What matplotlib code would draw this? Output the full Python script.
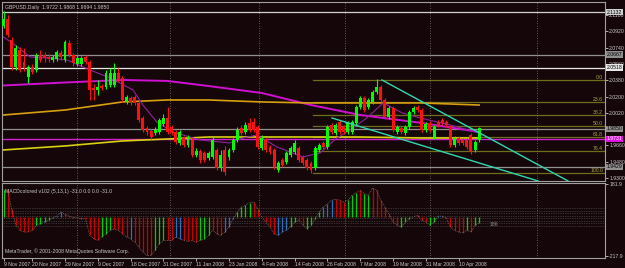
import numpy as np
import matplotlib
matplotlib.use('Agg')
import matplotlib.pyplot as plt

plt.rcParams['font.family'] = ['Liberation Sans', 'DejaVu Sans']

BG = '#150709'
FG = '#c8c8c8'
BORDER = '#a0a0a0'
FS = 3.7

# Daily GBPUSD bars, 9 Nov 2007 .. 15 Apr 2008
opens = [2.0979, 2.1056, 2.0824, 2.0526, 2.0714, 2.0581, 2.0416, 2.0526, 2.0493, 2.0659,
         2.0659, 2.0637, 2.0604, 2.0615, 2.0681, 2.0604, 2.0791, 2.0659, 2.0559, 2.0559,
         2.0637, 2.0581, 2.0294, 2.0272, 2.0316, 2.0305, 2.0327, 2.0327, 2.0460, 2.0405,
         2.0140, 2.0184, 2.0195, 2.0129, 1.9963, 1.9852, 1.9819, 1.9797, 1.9808, 1.9897,
         1.9963, 1.9863, 1.9808, 1.9687, 1.9742, 1.9665, 1.9720, 1.9554, 1.9599, 1.9577,
         1.9521, 1.9532, 1.9610, 1.9411, 1.9610, 1.9532, 1.9610, 1.9720, 1.9852, 1.9808,
         1.9908, 1.9919, 1.9863, 1.9632, 1.9720, 1.9643, 1.9610, 1.9389, 1.9499, 1.9477,
         1.9554, 1.9588, 1.9632, 1.9532, 1.9499, 1.9466, 1.9411, 1.9610, 1.9687, 1.9643,
         1.9886, 1.9797, 1.9919, 1.9863, 1.9808, 1.9808, 1.9908, 2.0084, 2.0184, 2.0084,
         2.0140, 2.0250, 2.0305, 2.0162, 1.9974, 2.0073, 1.9808, 1.9852, 1.9797, 1.9863,
         2.0029, 2.0084, 2.0051, 1.9830, 1.9908, 1.9753, 1.9919, 1.9941, 1.9919, 1.9863,
         1.9665, 1.9742, 1.9720, 1.9720, 1.9775, 1.9610, 1.9722]
highs = [2.1150, 2.1100, 2.0857, 2.0769, 2.0747, 2.0736, 2.0548, 2.0559, 2.0681, 2.0714,
         2.0692, 2.0670, 2.0659, 2.0714, 2.0714, 2.0824, 2.0824, 2.0681, 2.0659, 2.0648,
         2.0659, 2.0604, 2.0338, 2.0383, 2.0338, 2.0493, 2.0515, 2.0570, 2.0515, 2.0427,
         2.0217, 2.0206, 2.0217, 2.0162, 1.9985, 1.9874, 1.9841, 1.9863, 1.9963, 2.0007,
         2.0084, 1.9886, 1.9830, 1.9830, 1.9764, 1.9775, 1.9742, 1.9632, 1.9621, 1.9599,
         1.9599, 1.9753, 1.9632, 1.9610, 1.9654, 1.9632, 1.9742, 1.9863, 1.9886, 1.9919,
         1.9963, 1.9963, 1.9886, 1.9775, 1.9742, 1.9665, 1.9632, 1.9488, 1.9521, 1.9599,
         1.9654, 1.9720, 1.9654, 1.9554, 1.9521, 1.9488, 1.9654, 1.9687, 1.9709, 1.9886,
         1.9908, 1.9908, 1.9941, 1.9886, 1.9930, 1.9941, 2.0106, 2.0206, 2.0206, 2.0184,
         2.0272, 2.0393, 2.0327, 2.0184, 2.0095, 2.0095, 1.9886, 1.9874, 1.9886, 2.0051,
         2.0095, 2.0106, 2.0073, 1.9919, 1.9930, 1.9886, 1.9941, 1.9963, 1.9941, 1.9886,
         1.9764, 1.9764, 1.9742, 1.9742, 1.9797, 1.9720, 1.9868]
lows = [2.0957, 2.0857, 2.0493, 2.0493, 2.0471, 2.0482, 2.0349, 2.0449, 2.0471, 2.0581,
        2.0581, 2.0581, 2.0581, 2.0593, 2.0604, 2.0581, 2.0637, 2.0537, 2.0537, 2.0537,
        2.0559, 2.0162, 2.0162, 2.0217, 2.0272, 2.0283, 2.0305, 2.0305, 2.0361, 2.0140,
        2.0118, 2.0106, 2.0106, 1.9919, 1.9808, 1.9775, 1.9731, 1.9775, 1.9786, 1.9875,
        1.9786, 1.9775, 1.9676, 1.9665, 1.9643, 1.9643, 1.9532, 1.9532, 1.9466, 1.9477,
        1.9499, 1.9510, 1.9389, 1.9378, 1.9333, 1.9499, 1.9588, 1.9698, 1.9775, 1.9786,
        1.9808, 1.9808, 1.9621, 1.9610, 1.9588, 1.9566, 1.9400, 1.9367, 1.9422, 1.9455,
        1.9532, 1.9566, 1.9477, 1.9444, 1.9389, 1.9356, 1.9389, 1.9588, 1.9621, 1.9621,
        1.9786, 1.9775, 1.9786, 1.9786, 1.9786, 1.9786, 1.9886, 2.0062, 2.0029, 2.0062,
        2.0118, 2.0228, 2.0140, 1.9952, 1.9952, 1.9808, 1.9786, 1.9786, 1.9775, 1.9841,
        2.0007, 2.0029, 1.9808, 1.9808, 1.9808, 1.9731, 1.9863, 1.9886, 1.9863, 1.9643,
        1.9643, 1.9665, 1.9665, 1.9621, 1.9566, 1.9588, 1.9694]
closes = [2.1056, 2.0879, 2.0526, 2.0736, 2.0493, 2.0515, 2.0526, 2.0471, 2.0659, 2.0604,
          2.0626, 2.0615, 2.0637, 2.0692, 2.0637, 2.0802, 2.0659, 2.0570, 2.0626, 2.0626,
          2.0581, 2.0272, 2.0272, 2.0305, 2.0294, 2.0460, 2.0460, 2.0460, 2.0383, 2.0162,
          2.0195, 2.0140, 2.0129, 1.9941, 1.9830, 1.9808, 1.9753, 1.9830, 1.9941, 1.9963,
          1.9808, 1.9797, 1.9698, 1.9808, 1.9665, 1.9742, 1.9554, 1.9599, 1.9499, 1.9499,
          1.9577, 1.9720, 1.9411, 1.9554, 1.9367, 1.9610, 1.9720, 1.9830, 1.9797, 1.9886,
          1.9830, 1.9830, 1.9643, 1.9742, 1.9610, 1.9588, 1.9422, 1.9466, 1.9444, 1.9577,
          1.9632, 1.9687, 1.9499, 1.9466, 1.9411, 1.9389, 1.9632, 1.9665, 1.9643, 1.9863,
          1.9808, 1.9886, 1.9808, 1.9808, 1.9908, 1.9919, 2.0084, 2.0184, 2.0051, 2.0162,
          2.0250, 2.0305, 2.0162, 1.9974, 2.0073, 1.9830, 1.9863, 1.9808, 1.9863, 2.0029,
          2.0073, 2.0051, 1.9830, 1.9897, 1.9830, 1.9863, 1.9886, 1.9908, 1.9886, 1.9665,
          1.9742, 1.9687, 1.9687, 1.9643, 1.9588, 1.9698, 1.9850]

# MACD (5,13,1) histogram, points, and its colour code per bar
macd = [150, 150, 45, -46, -74, -83, -83, -74, -46, -37,
        -28, -18, -5, 5, 28, 15, 5, -3, -5, -10,
        -10, -100, -120, -130, -111, -93, -74, -65, -74, -93,
        -111, -120, -139, -167, -194, -213, -213, -185, -148, -130,
        -130, -130, -111, -120, -130, -135, -130, -139, -130, -120,
        -102, -74, -93, -102, -83, -56, -9, 28, 55, 65,
        80, 83, 46, 0, -28, -55, -93, -102, -83, -74,
        -56, -28, -18, -46, -65, -46, -9, 28, 55, 74,
        93, 98, 93, 83, 93, 120, 135, 148, 130, 120,
        161, 148, 93, 55, 18, -28, -46, -55, -28, -9,
        0, 10, -18, -28, -46, -28, 5, 5, -5, -56,
        -74, -83, -87, -74, -83, -46, -31]
macd_col = ('grrrrrrrgg' 'ggbbbrrrrr'
            'rrrrgggrrr' 'rbrrrrrggg'
            'rrbbrrrrgg' 'grrrbbbggg'
            'grrrrrrbbb' 'ggrrggggbb'
            'brrrgggrgg' 'rrrrrrrggg'
            'grrrggbbrr' 'rrrgrgg')

# moving averages read at sample bars
ma_slow_x = [0, 15, 29, 40, 50, 63, 75, 87, 102, 116]
ma_slow = [2.0322, 2.0355, 2.0383, 2.0372, 2.0316, 2.0239, 2.0106, 1.9996, 1.9908, 1.9808]
ma_mid = [1.9996, 2.0051, 2.0140, 2.0162, 2.0162, 2.0140, 2.0129, 2.0129, 2.0129, 2.0106]
ma_low = [1.9610, 1.9654, 1.9709, 1.9731, 1.9753, 1.9753, 1.9753, 1.9753, 1.9742, 1.9742]
ma_fast_x = [0, 2.8, 6.5, 11.3, 15.5, 21.1, 26, 31.6, 34, 37.4, 41.3, 47.9, 55.2,
             58.4, 61.8, 66.7, 73, 77.2, 81.3, 84.5, 88.6, 92.6, 97.3, 101.6, 108.9, 116]
ma_fast = [2.0857, 2.0769, 2.0637, 2.0626, 2.0604, 2.0493, 2.0405, 2.0272, 2.0106, 1.9919,
           1.9808, 1.9720, 1.9687, 1.9742, 1.9775, 1.9643, 1.9532, 1.9577, 1.9742, 1.9830,
           1.9963, 2.0129, 2.0018, 1.9963, 1.9886, 1.9797]

# horizontal price lines with their labels
hlines = [2.1133, 2.0663, 2.0520, 1.9842, 1.9422]
hline_col = ['#d0d0d0', '#909090', '#e8e8e8', '#909090', '#909090']
hline_lab = ['2.1132', '2.0667', '2.0518', '1.9850', '1.9429']
mag_line = 1.9731

# fibonacci retracement
fib_hi, fib_lo, fib_start = 2.0383, 1.9356, 75.5
fib_levels = [0.0, 23.6, 38.2, 50.0, 61.8, 76.4, 100.0]

# trend lines (bar, price)
trend1 = ([92.3, 137.7], [2.0383, 1.9267])
trend2 = ([80.1, 130.4], [1.9963, 1.9267])

# date axis
date_pos = [0, 7, 15, 23, 31, 39, 47, 55, 63, 71, 79, 87, 95, 103, 111]
date_lab = ['9 Nov 2007', '20 Nov 2007', '29 Nov 2007', '9 Dec 2007', '18 Dec 2007',
            '31 Dec 2007', '11 Jan 2008', '23 Jan 2008', '4 Feb 2008', '14 Feb 2008',
            '26 Feb 2008', '7 Mar 2008', '19 Mar 2008', '31 Mar 2008', '10 Apr 2008']
month_grid = [18, 40.5, 62.4, 83.4, 104.1, 130]

# price scale (1.9840 sits under the bid box)
price_ticks = [2.1100, 2.0920, 2.0740, 2.0560, 2.0380, 2.0200, 2.0020, 1.9660, 1.9480, 1.9300]

W, H = 625, 268
fig = plt.figure(figsize=(W / 100, H / 100), dpi=100, facecolor=BG)
ax = fig.add_axes([2 / W, 1 - 181 / H, 603 / W, 179 / H], facecolor=BG)
am = fig.add_axes([2 / W, 10 / H, 603 / W, 75 / H], facecolor=BG)

xlim = (-0.37, 146.7)
for a in (ax, am):
    a.set_xlim(*xlim)
    for s in a.spines.values():
        s.set_color(BORDER)
        s.set_linewidth(0.8)
    for g in month_grid:
        a.axvline(g, color='#787878', lw=0.6, ls=(0, (1, 2)), zorder=0)

ax.set_ylim(1.9267, 2.1244)

# horizontal lines
for p, c in zip(hlines, hline_col):
    ax.axhline(p, color=c, lw=0.9, zorder=1)
ax.axhline(mag_line, color='#d020d0', lw=1.0, zorder=1)

# fib levels
for lv in fib_levels:
    p = fib_hi - (fib_hi - fib_lo) * lv / 100
    ax.plot([fib_start, xlim[1]], [p, p], color='#6e6e1e', lw=0.9, zorder=1)
    ax.text(0.997, p + 0.0004, '%.1f' % lv, transform=ax.get_yaxis_transform(),
            ha='right', va='bottom', fontsize=FS, color='#a8a840')

# moving averages
ax.plot(ma_slow_x, ma_slow, color='#d010d0', lw=1.4, zorder=2)
ax.plot(ma_slow_x, ma_mid, color='#d8a010', lw=1.2, zorder=2)
ax.plot(ma_slow_x, ma_low, color='#d8d010', lw=1.2, zorder=2)
ax.plot(ma_fast_x, ma_fast, color='#9020a0', lw=0.8, zorder=2)

# candles
x = np.arange(len(closes))
o = np.array(opens)
c = np.array(closes)
up = c >= o
cols = np.where(up, '#00ff00', '#ff1010')
ax.vlines(x, lows, highs, colors=cols, lw=0.8, zorder=3)
body = np.maximum(np.abs(c - o), 0.0004)
ax.bar(x, body, bottom=np.minimum(o, c), width=0.72, color=cols, lw=0, zorder=4)

# trend lines
ax.plot(*trend1, color='#30d8b0', lw=1.0, zorder=5)
ax.plot(*trend2, color='#30d8b0', lw=1.0, zorder=5)

# price axis
ax.yaxis.tick_right()
ax.set_yticks(price_ticks)
ax.set_yticklabels(['%.4f' % t for t in price_ticks])
ax.tick_params(axis='y', colors=FG, labelsize=FS, length=2, width=0.6, pad=1)
ax.set_xticks([])
tr = ax.get_yaxis_transform()
for p, lab, col in zip(hlines, hline_lab, hline_col):
    ax.text(1.003, p, lab, transform=tr, fontsize=FS, color='black', va='center', ha='left',
            bbox=dict(facecolor=col, edgecolor='none', pad=0.5), clip_on=False, zorder=10)
ax.text(1.003, mag_line, '1.9731', transform=tr, fontsize=FS, color='#ffffff', va='center',
        ha='left', bbox=dict(facecolor='#e010e0', edgecolor='none', pad=0.5), clip_on=False, zorder=10)
ax.text(0.005, 0.985, 'GBPUSD,Daily  1.9722 1.9868 1.9694 1.9850', transform=ax.transAxes,
        fontsize=FS, color=FG, va='top', ha='left')

# MACD panel
am.set_ylim(-227.6, 188.7)
for lv in [50, 33, 22, 5.5, -5.5, -22, -33, -50]:
    am.axhline(lv, color='#5a5a5a', lw=0.5, ls=(0, (1, 1.5)), zorder=1)
cmap = {'g': '#00d000', 'r': '#c80000', 'b': '#2870c0'}
am.vlines(x, 0, macd, colors=[cmap[k] for k in macd_col], lw=0.9, zorder=3)
am.plot(x, macd, color='#909090', lw=0.5, ls=(0, (1, 1.5)), zorder=4)
am.text(0.005, 0.92, 'MACDcolored v102 (5,13,1) -31.0 0.0 0.0 -31.0', transform=am.transAxes,
        fontsize=FS, color=FG, va='top', ha='left')
am.text(0.005, 0.06, 'MetaTrader, \u00a9 2001-2008 MetaQuotes Software Corp.', transform=am.transAxes,
        fontsize=FS, color=FG, va='bottom', ha='left')
am.text(118.5, -40, '186', fontsize=FS, color='#909090', va='center', ha='left')
am.yaxis.tick_right()
am.set_yticks([181.9, -217.9])
am.set_yticklabels(['181.9', '-217.9'])
am.tick_params(axis='y', colors=FG, labelsize=FS, length=2, width=0.6, pad=1)
am.set_xticks(date_pos)
am.set_xticklabels(date_lab, ha='left')
am.tick_params(axis='x', colors=FG, labelsize=FS, length=2, width=0.6, pad=1)

fig.savefig('out.png', dpi=100, facecolor=BG)
